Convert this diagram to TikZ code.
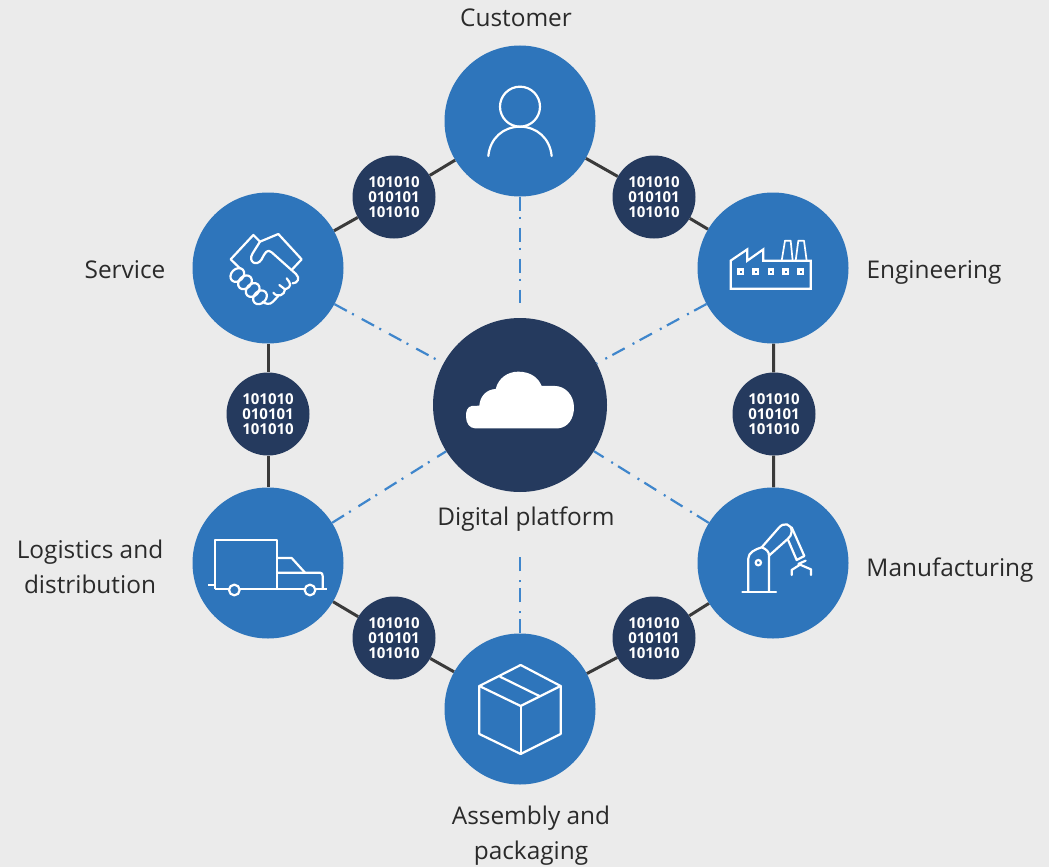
\documentclass[tikz,border=0pt]{standalone}
\usepackage{fontspec}
\setmainfont{Open Sans}
\usetikzlibrary{backgrounds}
\definecolor{pagebg}{HTML}{EBEBEB}
\definecolor{hexblue}{HTML}{2E75BB}
\definecolor{navy}{HTML}{253A5E}
\definecolor{linkgrey}{HTML}{3A3A3A}
\definecolor{dashblue}{HTML}{3F86CC}
\definecolor{labelink}{HTML}{2A2A2A}
\tikzset{
  x=1pt,y=-1pt,
  stage/.style={circle,fill=hexblue,draw=none,minimum size=151pt,inner sep=0pt},
  hub/.style={circle,fill=navy,draw=none,minimum size=174pt,inner sep=0pt},
  databall/.style={circle,fill=navy,draw=none,minimum size=83pt,inner sep=0pt,text=white,
    align=center,font=\fontsize{15}{15}\selectfont\bfseries},
  lbl/.style={text=labelink,align=center,inner sep=0pt,font=\fontsize{24.4}{35}\selectfont},
  link/.style={draw=linkgrey,line width=3pt},
  dd/.style={draw=dashblue,line width=2.2pt,dash pattern=on 14pt off 6pt on 2pt off 9pt},
  ico/.style={draw=white,line width=2.2pt,line join=round,line cap=round,fill=none},
  zoomat/.style 2 args={shift={(#1,#2)},x=0.3333pt,y=-0.3333pt},
}
\begin{document}
\begin{tikzpicture}
\useasboundingbox (0,0) rectangle (1049,867);
% stages
\node[stage] (cust) at (520,121) {};
\node[stage] (serv) at (268,268) {};
\node[stage] (engi) at (773,268) {};
\node[stage] (logi) at (268,563) {};
\node[stage] (manu) at (773,563) {};
\node[stage] (asse) at (520,709) {};
\node[hub]   (plat) at (520,405) {};
% data balls
\node[databall] (d1) at (394,197) {101010\\010101\\101010};
\node[databall] (d2) at (654,197) {101010\\010101\\101010};
\node[databall] (d3) at (268,414) {101010\\010101\\101010};
\node[databall] (d4) at (774,414) {101010\\010101\\101010};
\node[databall] (d5) at (394,638) {101010\\010101\\101010};
\node[databall] (d6) at (654,638) {101010\\010101\\101010};
% labels
\node[lbl] (l1) at (516,18) {Customer};
\node[lbl] (l2) at (125,270) {Service};
\node[lbl] (l3) at (934,272.5) {Engineering};
\node[lbl] (l4) at (90,567) {Logistics and\\distribution};
\node[lbl] (l5) at (950,570.5) {Manufacturing};
\node[lbl] (l6) at (531,836) {Assembly and\\packaging};
\node[lbl] (l7) at (526,519) {Digital platform};
\begin{pgfonlayer}{background}
\fill[pagebg] (0,0) rectangle (1049,867);
\draw[link] (cust) -- (d1);
\draw[link] (d1) -- (serv);
\draw[link] (cust) -- (d2);
\draw[link] (d2) -- (engi);
\draw[link] (serv) -- (d3);
\draw[link] (d3) -- (logi);
\draw[link] (engi) -- (d4);
\draw[link] (d4) -- (manu);
\draw[link] (logi) -- (d5);
\draw[link] (d5) -- (asse);
\draw[link] (manu) -- (d6);
\draw[link] (d6) -- (asse);
\draw[dd,shorten >=15pt] (cust) -- (plat);
\draw[dd] (serv) -- (plat);
\draw[dd] (engi) -- (plat);
\draw[dd] (logi) -- (plat);
\draw[dd] (manu) -- (plat);
\draw[dd,shorten >=62pt] (asse) -- (plat);
\end{pgfonlayer}
% customer icon
\begin{scope}[zoomat={440}{70}]
\draw[ico] (240,110) circle [x radius=60,y radius=60];
\draw[ico] (145,258) .. controls (150,205) and (190,170) .. (240,170) .. controls (290,170) and (330,205) .. (335,258);
\end{scope}
% handshake icon
\begin{scope}[zoomat={190}{190}]
\draw[ico] (150,235) -- (122,208) -- (190,135) -- (210,155) -- (265,132) -- (335,208) -- (305,240);
\draw[ico] (210,155) -- (188,190) .. controls (172,215) and (200,232) .. (215,208) .. controls (225,188) and (232,175) .. (245,187) -- (318,252) .. controls (332,265) and (322,280) .. (308,280);
\draw[ico] (290,265) .. controls (302,280) and (308,290) .. (285,298) -- (268,285);
\draw[ico] (285,298) .. controls (285,315) and (262,325) .. (250,308);
\draw[ico] (265,318) -- (248,336) .. controls (240,345) and (225,342) .. (218,335);
\foreach \cx/\cy in {142/255,165/277,188/300,210/322}
  \draw[ico,rotate around={45:(\cx,\cy)}] (\cx,\cy) circle [x radius=23,y radius=18];
\end{scope}
% factory icon
\begin{scope}[zoomat={695}{190}]
\draw[ico,line cap=butt,line join=miter] (107,296) -- (107,212) -- (157,178) -- (157,212) -- (205,178) -- (205,212) -- (347,212) -- (347,296) -- cycle;
\draw[ico,line width=1.7pt] (260,212) -- (270,152) -- (287,152) -- (293,212);
\draw[ico,line width=1.7pt] (302,212) -- (310,152) -- (327,152) -- (335,212);
\foreach \wx in {137,182,228,272,317}{
  \fill[white] (\wx-10,235) rectangle (\wx+10,255);
  \fill[hexblue] (\wx-3,242) rectangle (\wx+3,248);
}
\end{scope}
% truck icon
\begin{scope}[zoomat={190}{490}]
\draw[ico,line cap=butt] (262,298) -- (262,150) -- (75,150) -- (75,298);
\draw[ico,line cap=butt] (55,285) -- (75,285);
\draw[ico,line cap=butt] (75,298) -- (117,298);
\draw[ico,line cap=butt] (149,298) -- (344,298);
\draw[ico,line cap=butt] (376,298) -- (412,298);
\draw[ico] (133,300) circle [x radius=16,y radius=16];
\draw[ico] (360,300) circle [x radius=16,y radius=16];
\draw[ico,line cap=butt] (262,204) -- (305,204) -- (345,248);
\draw[ico,line cap=butt] (262,248) -- (390,248) .. controls (396,248) and (398,252) .. (398,258) -- (398,298);
\end{scope}
% robot icon
\begin{scope}[zoomat={695}{490}]
\draw[ico] (142,307) -- (243,307);
\draw[ico] (160,305) -- (160,205) .. controls (160,188) and (180,178) .. (200,172) .. controls (215,178) and (222,185) .. (222,197) -- (222,305);
\draw[ico] (200,172) -- (250,115) .. controls (265,95) and (290,100) .. (290,125) .. controls (290,135) and (285,140) .. (278,147) -- (222,197);
\draw[ico] (278,147) -- (305,210) -- (328,198) -- (290,112);
\draw[ico] (310,222) -- (332,212);
\draw[ico] (290,255) -- (290,240) -- (315,224) -- (348,238) -- (348,255);
\draw[ico] (190,218) circle [x radius=8,y radius=8];
\end{scope}
% box icon
\begin{scope}[zoomat={440}{630}]
\draw[ico] (118,168) -- (242,105) -- (362,168) -- (242,228) -- cycle;
\draw[ico] (118,168) -- (118,312) -- (242,372) -- (362,312) -- (362,168);
\draw[ico] (242,228) -- (242,372);
\draw[ico] (180,140) -- (298,198);
\end{scope}
% cloud icon
\begin{scope}[zoomat={430}{320}]
\fill[white] (135,325) -- (385,325) .. controls (415,322) and (432,295) .. (432,262)
  .. controls (432,225) and (405,198) .. (375,198) -- (335,198)
  .. controls (325,172) and (300,155) .. (265,155)
  .. controls (232,155) and (205,175) .. (197,207)
  .. controls (170,208) and (150,228) .. (148,257) -- (125,258)
  .. controls (112,260) and (107,275) .. (108,290)
  .. controls (108,308) and (118,325) .. (135,325) -- cycle;
\end{scope}
\end{tikzpicture}
\end{document}
